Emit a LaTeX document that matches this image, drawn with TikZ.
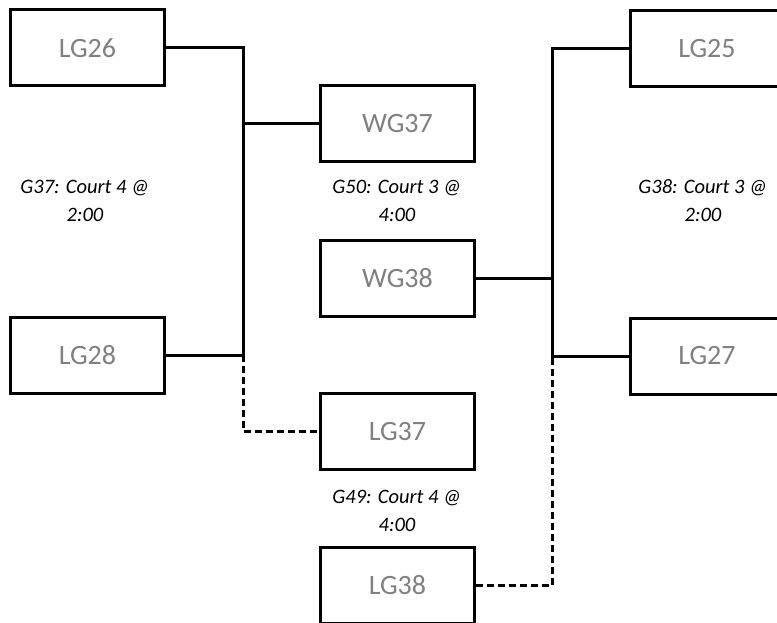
\documentclass[tikz,border=0pt]{standalone}
\usepackage{fontspec}
\setmainfont{Carlito}
\usetikzlibrary{calc}
\definecolor{boxtext}{HTML}{808080}
\tikzset{team/.style={draw=black,line width=3pt,minimum width=154pt,minimum height=76pt,inner sep=0pt,text=boxtext,font=\fontsize{28}{34}\selectfont}}
\tikzset{note/.style={align=center,font=\fontsize{20.5}{28}\selectfont\itshape}}
\tikzset{link/.style={line width=3pt,line join=miter}}

\begin{document}
\begin{tikzpicture}[x=1pt,y=-1pt]
\useasboundingbox (0,0) rectangle (777,623);

% Team Boxes
\node[team] (lg26) at (87.5,48) {LG26};
\node[team] (lg28) at (87.5,355) {LG28};
\node[team] (wg37) at (397.5,124) {WG37};
\node[team] (wg38) at (397.5,278.5) {WG38};
\node[team] (lg37) at (397.5,431.5) {LG37};
\node[team] (lg38) at (397.5,585.5) {LG38};
\node[team] (lg25) at (707,48.5) {LG25};
\node[team] (lg27) at (707,356) {LG27};

% Joints
\coordinate (jl) at (243,124);
\coordinate (jr) at (552,278.5);

% Winners
\draw[link] (lg26.east) -| (jl) |- (lg28.east);
\draw[link] (jl) -- (wg37.west);
\draw[link] (lg25.west) -| (jr) |- (lg27.west);
\draw[link] (wg38.east) -- (jr);

% Losers
\draw[link,dash pattern=on 7pt off 4pt] (lg28.east -| jl) |- (lg37.west);
\draw[link,dash pattern=on 7pt off 4pt] (lg38.east) -| (lg27.west -| jr);

% Game Labels
\node[note] (g37) at (85,201) {G37: Court 4 @\\2:00};
\node[note] (g50) at (397,201) {G50: Court 3 @\\4:00};
\node[note] (g38) at (703,201) {G38: Court 3 @\\2:00};
\node[note] (g49) at (397,511) {G49: Court 4 @\\4:00};

\end{tikzpicture}
\end{document}
